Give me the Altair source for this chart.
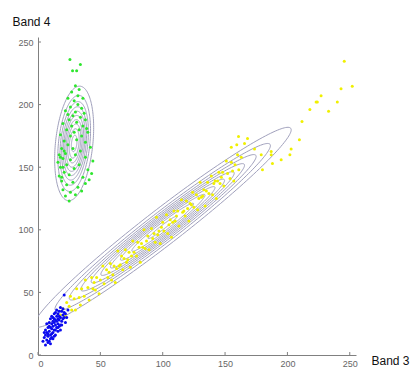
import altair as alt
import numpy as np
import pandas as pd

# ---- data ----
x_ticks = [0, 50, 100, 150, 200, 250]
y_ticks = [0, 50, 100, 150, 200, 250]

green_pts = [(25.6, 236), (27.7, 227), (31, 227), (34, 232),
             (30, 215), (27, 210), (33, 212), (36, 205), (24, 205), (29, 203), (32, 200), (26, 198),
             (35, 197), (22, 195), (30, 194), (28, 191), (34, 190), (38, 188), (25, 188), (31, 186),
             (20, 185), (27, 183), (36, 183), (33, 180), (23, 180), (29, 178), (40, 178), (18, 176),
             (26, 175), (35, 175), (31, 172), (21, 171), (38, 170), (24, 168), (28, 165), (19, 165),
             (42, 166), (34, 163), (22, 161), (17, 160), (30, 160), (38, 158), (20, 157), (26, 156),
             (16, 154), (44, 155), (23, 152), (33, 152), (18, 150), (29, 149), (40, 148), (21, 146),
             (25, 144), (17, 143), (36, 142), (43, 145), (19, 139), (28, 138), (23, 136), (32, 134),
             (38, 137), (20, 132), (26, 130), (30, 128), (22, 127), (25, 123), (35, 131), (41, 140),
             (18, 158), (20, 150), (19, 142), (37, 193), (39, 181), (32, 207), (24, 192), (21, 163)]

yellow_pts = [(18, 32), (20, 37), (22, 31), (23, 42), (25, 39), (26, 47), (27, 36), (29, 45), (30, 36),
              (31, 53), (33, 46), (34, 40), (35, 53), (37, 47), (38, 60), (40, 54), (41, 44), (43, 62),
              (44, 53), (46, 52), (47, 62), (49, 49), (50, 60), (52, 71), (53, 57), (55, 68), (56, 62),
              (58, 73), (59, 60), (61, 71), (62, 58), (64, 83), (65, 71), (67, 79), (68, 68), (70, 84),
              (71, 74), (73, 82), (74, 70), (76, 91), (77, 82), (79, 79), (80, 90), (82, 74), (83, 89),
              (85, 100), (86, 85), (88, 95), (89, 84), (91, 101), (92, 93), (94, 90), (95, 110),
              (97, 99), (98, 89), (100, 106), (101, 99), (103, 112), (104, 97), (106, 108), (107, 94),
              (109, 115), (110, 107), (112, 115), (113, 103), (115, 124), (116, 114), (118, 111),
              (119, 123), (121, 107), (122, 121), (124, 130), (125, 118), (127, 128), (128, 116),
              (130, 138), (131, 126), (133, 132), (134, 119), (136, 138), (137, 129), (139, 143),
              (140, 128), (142, 139), (143, 125), (145, 146), (146, 137), (148, 146), (149, 135),
              (151, 155), (152, 145), (154, 141), (155, 154), (157, 139), (158, 152), (160, 160),
              (161, 148), (163, 158),
              (45, 58), (57, 66), (63, 69), (69, 77), (75, 79), (81, 86), (87, 91), (93, 97), (99, 102),
              (105, 104), (111, 111), (117, 115), (123, 120), (129, 125), (135, 131), (141, 137),
              (147, 142), (60, 64), (66, 72), (72, 76), (84, 86), (96, 96), (108, 106), (120, 117),
              (132, 127), (144, 139), (156, 147),
              (160.8, 174.6), (168, 173), (159.4, 168), (165.6, 169), (155, 166), (211.7, 186.6),
              (223, 202), (209.6, 172), (203, 164.5), (202, 160), (195, 156), (187, 160), (187, 162.6),
              (179, 160), (173.6, 164.5), (188, 153), (180, 148), (245.6, 234.6), (252, 214.6),
              (243, 212.6), (240, 202), (224, 202), (233, 194.6), (227, 207), (218, 196)]

blue_pts = [(6, 8), (7, 12), (5, 14), (8, 15), (9, 11), (7, 18), (10, 16), (6, 20), (9, 19), (11, 14),
            (12, 18), (8, 22), (10, 22), (13, 20), (11, 25), (14, 16), (12, 23), (9, 26), (15, 22),
            (13, 26), (16, 19), (10, 29), (14, 28), (12, 30), (16, 25), (17, 28), (15, 31), (13, 33),
            (18, 24), (11, 21), (14, 24), (16, 33), (18, 30), (19, 27), (17, 35), (15, 36), (20, 32),
            (19, 35), (21, 30), (18, 38), (20, 37), (21, 34), (13, 29), (12, 27), (15, 27), (17, 23),
            (11, 17), (9, 23), (14, 20), (19, 24), (22, 33), (16, 29), (8, 17), (12, 13), (10, 9),
            (21, 48), (24, 36), (7, 25), (22, 26), (18, 20), (4, 11), (6, 16), (8, 10), (10, 13),
            (13, 15), (16, 22), (20, 29), (17, 31), (14, 34), (11, 31), (23, 30), (5, 18)]

# Gaussian contour parameters (green cluster, yellow cluster)
g_center_x = [29, 100]
g_center_y = [169, 102]
g_angle_deg = [84, 37.6]
g_sigma_major = [21.2, 60]
g_sigma_minor = [6.9, 6.6]
g_peak_ratio = [10.5, 10.3]
n_levels = 10

# ---- build tables ----
rows = []
for name, pts in (("green", green_pts), ("yellow", yellow_pts), ("blue", blue_pts)):
    for (px, py) in pts:
        rows.append({"x": px, "y": py, "cls": name})
pts_df = pd.DataFrame(rows)

crows = []
t = np.linspace(0, 2 * np.pi, 181)
for i in range(len(g_center_x)):
    a = np.deg2rad(g_angle_deg[i])
    ux, uy = np.cos(a), np.sin(a)
    vx, vy = -np.sin(a), np.cos(a)
    for k in range(1, n_levels + 1):
        if g_peak_ratio[i] / k <= 1:
            continue
        r = np.sqrt(2 * np.log(g_peak_ratio[i] / k))
        for j, tt in enumerate(t):
            p = r * g_sigma_major[i] * np.cos(tt)
            q = r * g_sigma_minor[i] * np.sin(tt)
            crows.append({"x": g_center_x[i] + p * ux + q * vx,
                          "y": g_center_y[i] + p * uy + q * vy,
                          "cid": f"{i}-{k}", "ord": j})
cont_df = pd.DataFrame(crows)

W, H = 318, 318
xs = alt.Scale(domain=[0, 255], nice=False, zero=False)
ys = alt.Scale(domain=[0, 254], nice=False, zero=False)
font = "Liberation Sans"

x_axis = alt.Axis(values=x_ticks, grid=False, ticks=False, labelFontSize=9, labelColor="#666666",
                  labelFont=font, labelPadding=4, domainColor="#808080", title="Band 3",
                  titleFont=font, titleFontSize=12, titleFontWeight="normal", titleColor="#111111",
                  titleX=333, titleY=5, titleAlign="left", titleBaseline="middle", titleAngle=0)
y_axis = alt.Axis(values=y_ticks, grid=False, ticks=False, labelFontSize=9, labelColor="#666666",
                  labelFont=font, labelPadding=5, domainColor="#808080", title="Band 4",
                  titleFont=font, titleFontSize=12, titleFontWeight="normal", titleColor="#111111",
                  titleX=-26, titleY=-16, titleAlign="left", titleBaseline="middle", titleAngle=0)

X = alt.X("x:Q", scale=xs, axis=x_axis)
Y = alt.Y("y:Q", scale=ys, axis=y_axis)

contours = alt.Chart(cont_df).mark_line(color="#a0a0bc", strokeWidth=1, clip=True).encode(
    x=X, y=Y, detail="cid:N", order="ord:Q")

points = alt.Chart(pts_df).mark_circle(size=9, opacity=1).encode(
    x=X, y=Y,
    color=alt.Color("cls:N", scale=alt.Scale(domain=["green", "yellow", "blue"],
                                             range=["#2ee62e", "#f0f000", "#0a0aee"]), legend=None))

xt = alt.Chart(pd.DataFrame({"x": x_ticks})).mark_rule(color="#808080").encode(
    x=X, y=alt.value(H), y2=alt.value(H - 3))
yt = alt.Chart(pd.DataFrame({"y": y_ticks})).mark_rule(color="#808080").encode(
    y=Y, x=alt.value(0), x2=alt.value(3))

chart = alt.layer(contours, points, xt, yt).properties(
    width=W, height=H,
    autosize=alt.AutoSizeParams(type="none"),
    padding={"left": 38, "top": 37, "right": 59, "bottom": 13},
    background="white",
).configure_view(stroke=None)

chart.save("out.html", embed_options={"renderer": "svg", "actions": False})
